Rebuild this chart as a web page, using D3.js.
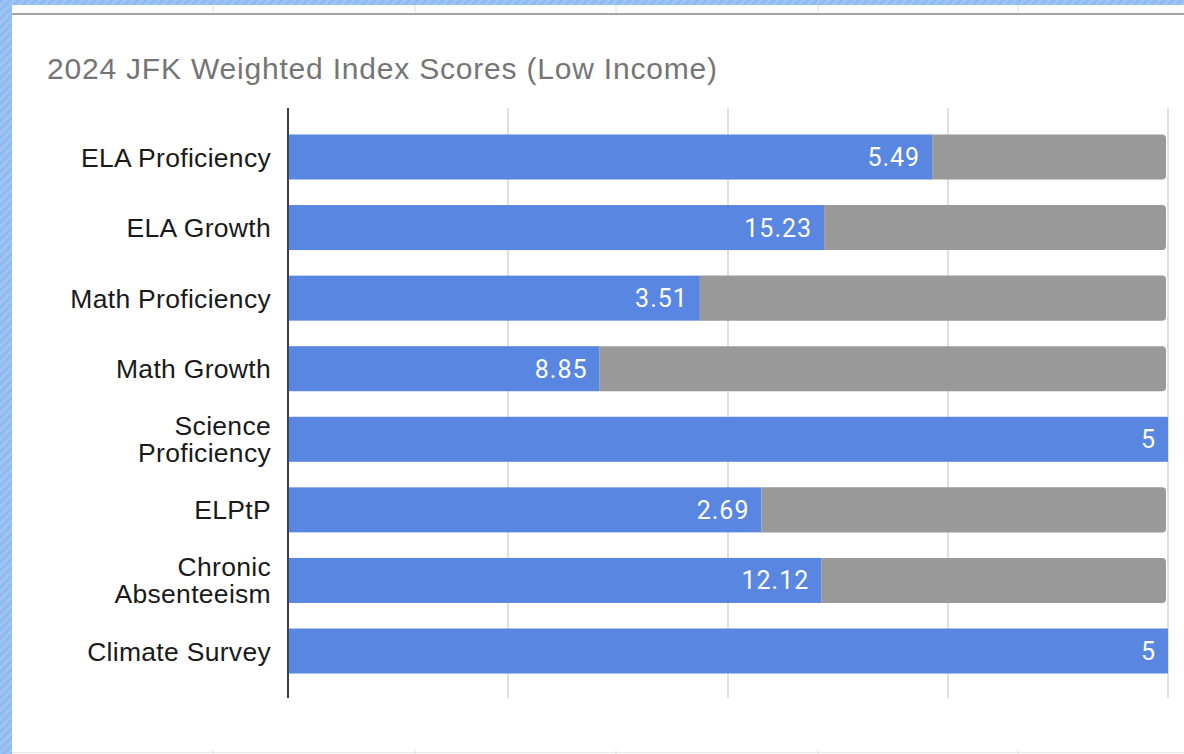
<!DOCTYPE html>
<html><head><meta charset="utf-8">
<script src="https://cdn.jsdelivr.net/npm/d3@7"></script>
<style>
html,body{margin:0;padding:0;background:#fff;}
svg{display:block;}
</style></head>
<body>
<svg id="chart" width="1184" height="754"></svg>
<script>
const title = "2024 JFK Weighted Index Scores (Low Income)";
const categories = ["ELA Proficiency","ELA Growth","Math Proficiency","Math Growth","Science Proficiency","ELPtP","Chronic Absenteeism","Climate Survey"];
const labelLines = [["ELA Proficiency"],["ELA Growth"],["Math Proficiency"],["Math Growth"],["Science","Proficiency"],["ELPtP"],["Chronic","Absenteeism"],["Climate Survey"]];
const scores = [5.49, 15.23, 3.51, 8.85, 5, 2.69, 12.12, 5];
const remaining = [2.01, 9.77, 3.99, 16.15, 0, 2.31, 7.88, 0];
const xTicks = [0, 0.25, 0.5, 0.75, 1];

const svg = d3.select("#chart");
const W = 1184, H = 754;

// background decorations (screenshot frame)
const defs = svg.append("defs");
const pat = defs.append("pattern").attr("id","hatch").attr("patternUnits","userSpaceOnUse")
  .attr("width",6).attr("height",6).attr("patternTransform","rotate(45)");
pat.append("rect").attr("width",6).attr("height",6).attr("fill","#9dc4f5");
pat.append("rect").attr("width",3).attr("height",6).attr("fill","#8fbaf1");
svg.append("rect").attr("x",0).attr("y",0).attr("width",W).attr("height",5).attr("fill","url(#hatch)");
svg.append("rect").attr("x",0).attr("y",0).attr("width",12).attr("height",H).attr("fill","url(#hatch)");
svg.append("rect").attr("x",12).attr("y",13).attr("width",W-12).attr("height",2).attr("fill","#a3a3a3");
const topCols = [213, 415, 616, 818, 1018];
svg.selectAll(".tc").data(topCols).join("line").attr("x1",d=>d).attr("x2",d=>d).attr("y1",5).attr("y2",13)
  .attr("stroke","#dcdcdc").attr("stroke-width",1);
svg.append("line").attr("x1",12).attr("x2",W).attr("y1",752.5).attr("y2",752.5).attr("stroke","#e8e8e8").attr("stroke-width",1);
svg.selectAll(".bc").data(topCols).join("line").attr("x1",d=>d).attr("x2",d=>d).attr("y1",750).attr("y2",754)
  .attr("stroke","#e0e0e0").attr("stroke-width",1);

// title
svg.append("text").attr("x",47).attr("y",79).text(title)
  .attr("font-family","'Liberation Sans', Arial, Helvetica, sans-serif").attr("font-size",30)
  .attr("letter-spacing",0.8).attr("fill","#757575");

// scales
const x = d3.scaleLinear().domain([0,1]).range([288,1168]);
const y = d3.scaleBand().domain(categories).range([121.7,686.3]).paddingInner(0.362).paddingOuter(0.181);

// gridlines
svg.selectAll(".grid").data(xTicks).join("line")
  .attr("x1",d=>x(d)).attr("x2",d=>x(d)).attr("y1",108).attr("y2",698)
  .attr("stroke",(d,i)=>i===0?"#333":"#cccccc").attr("stroke-width",(d,i)=>i===0?1.5:1.2);

// stacked (normalized) data
const rows = categories.map((c,i)=>({cat:c, score:scores[i], rest:remaining[i]}));
const stack = d3.stack().keys(["score","rest"]).offset(d3.stackOffsetExpand);
const series = stack(rows);
const colors = {score:"#5886e0", rest:"#999999"};

// gray (rest) with rounded right end
const restS = series[1];
svg.append("g").selectAll("path").data(restS.filter(d=>d[1]-d[0]>0)).join("path")
  .attr("fill",colors.rest)
  .attr("d",d=>{
    const x0 = x(d[0]), x1 = x(d[1]) - 2, y0 = y(d.data.cat), h = y.bandwidth(), r = 4;
    return `M${x0},${y0}H${x1-r}Q${x1},${y0} ${x1},${y0+r}V${y0+h-r}Q${x1},${y0+h} ${x1-r},${y0+h}H${x0}Z`;
  });
const scoreS = series[0];
svg.append("g").selectAll("rect").data(scoreS).join("rect")
  .attr("fill",colors.score)
  .attr("x",d=>x(d[0])).attr("width",d=>x(d[1])-x(d[0]))
  .attr("y",d=>y(d.data.cat)).attr("height",y.bandwidth());

// redraw axis line over bars
svg.append("line").attr("x1",x(0)).attr("x2",x(0)).attr("y1",108).attr("y2",698).attr("stroke","#333").attr("stroke-width",1.5);

// value labels
svg.append("g").selectAll("text").data(scoreS).join("text")
  .attr("x",d=>x(d[1])-12).attr("y",d=>y(d.data.cat)+y.bandwidth()/2).attr("dy","0.36em")
  .attr("text-anchor","end").attr("fill","#ffffff")
  .attr("font-family","Roboto, 'Noto Sans', sans-serif").attr("font-size",25)
  .attr("letter-spacing",1)
  .text(d=>d.data.score);

// category labels
const fs = 26.5;
const lab = svg.append("g").selectAll("text").data(categories).join("text")
  .attr("x",271).attr("y",d=>y(d)+y.bandwidth()/2)
  .attr("text-anchor","end").attr("fill","#1a1a1a")
  .attr("font-family","'Liberation Sans', Arial, Helvetica, sans-serif").attr("font-size",fs)
  .attr("letter-spacing",0.3);
lab.each(function(d,i){
  const lines = labelLines[i];
  const n = lines.length, lh = 27;
  d3.select(this).selectAll("tspan").data(lines).join("tspan")
    .attr("x",271).attr("y",y(d)+y.bandwidth()/2)
    .attr("dy",(l,j)=>((j-(n-1)/2)*lh/fs + 0.36)+"em")
    .text(l=>l);
});
</script>
</body></html>
